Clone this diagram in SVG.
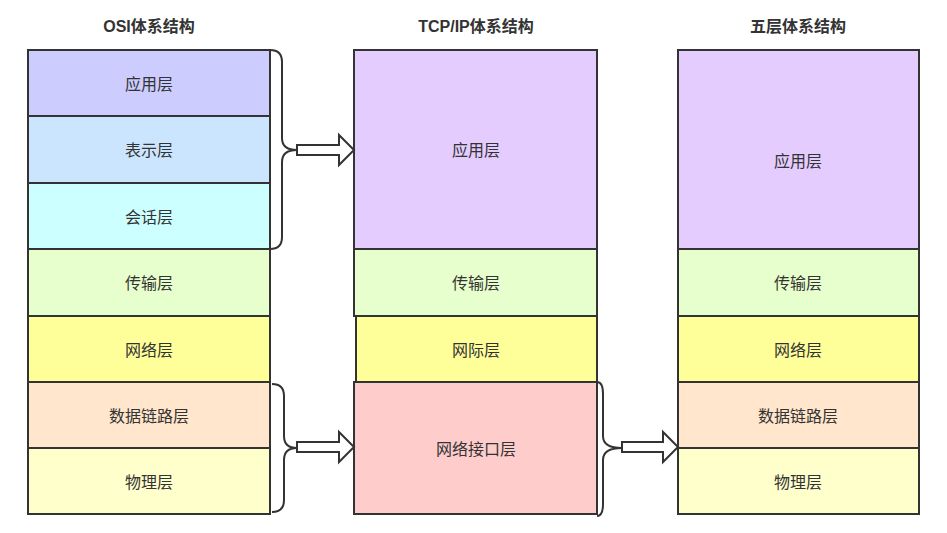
<svg xmlns="http://www.w3.org/2000/svg" width="947" height="533" viewBox="0 0 947 533">
<style>
.b{stroke:#333;stroke-width:2}
.t{font-family:"Liberation Sans","Noto Sans CJK SC",sans-serif;font-size:16px;fill:#333;text-anchor:middle;dominant-baseline:central}
.h{font-family:"Liberation Sans","Noto Sans CJK SC",sans-serif;font-size:16px;font-weight:bold;fill:#333;text-anchor:middle;dominant-baseline:central}
.br{fill:none;stroke:#333;stroke-width:2}
.ar{fill:#fff;stroke:#333;stroke-width:2;stroke-linejoin:miter}
</style>
<rect width="947" height="533" fill="#fff"/>
<text class="h" x="149" y="26">OSI体系结构</text>
<text class="h" x="476" y="26">TCP/IP体系结构</text>
<text class="h" x="798" y="26">五层体系结构</text>
<g id="osi-app"><rect class="b" x="28" y="50" width="242" height="66" fill="#CCCCFF"/><text class="t" x="149" y="84">应用层</text></g>
<g id="osi-pres"><rect class="b" x="28" y="116" width="242" height="67" fill="#CCE5FF"/><text class="t" x="149" y="150">表示层</text></g>
<g id="osi-sess"><rect class="b" x="28" y="183" width="242" height="66" fill="#CCFFFF"/><text class="t" x="149" y="217">会话层</text></g>
<g id="osi-trans"><rect class="b" x="28" y="249" width="242" height="67" fill="#E6FFCC"/><text class="t" x="149" y="283">传输层</text></g>
<g id="osi-net"><rect class="b" x="28" y="316" width="242" height="66" fill="#FFFF99"/><text class="t" x="149" y="350">网络层</text></g>
<g id="osi-link"><rect class="b" x="28" y="382" width="242" height="66" fill="#FFE6CC"/><text class="t" x="149" y="416">数据链路层</text></g>
<g id="osi-phy"><rect class="b" x="28" y="448" width="242" height="66" fill="#FFFFCC"/><text class="t" x="149" y="482">物理层</text></g>

<g id="tcp-app"><rect class="b" x="354" y="50" width="243" height="199" fill="#E5CCFF"/><text class="t" x="476" y="150">应用层</text></g>
<g id="tcp-trans"><rect class="b" x="354" y="249" width="243" height="67" fill="#E6FFCC"/><text class="t" x="476" y="283">传输层</text></g>
<g id="tcp-net"><rect class="b" x="356" y="316" width="241" height="66" fill="#FFFF99"/><text class="t" x="476" y="350">网际层</text></g>
<g id="tcp-if"><rect class="b" x="354" y="382" width="243" height="132" fill="#FFCCCC"/><text class="t" x="476" y="449">网络接口层</text></g>

<g id="five-app"><rect class="b" x="678" y="50" width="241" height="199" fill="#E5CCFF"/><text class="t" x="798" y="161">应用层</text></g>
<g id="five-trans"><rect class="b" x="678" y="249" width="241" height="67" fill="#E6FFCC"/><text class="t" x="798" y="283">传输层</text></g>
<g id="five-net"><rect class="b" x="678" y="316" width="241" height="66" fill="#FFFF99"/><text class="t" x="798" y="350">网络层</text></g>
<g id="five-link"><rect class="b" x="678" y="382" width="241" height="66" fill="#FFE6CC"/><text class="t" x="798" y="416">数据链路层</text></g>
<g id="five-phy"><rect class="b" x="678" y="448" width="241" height="66" fill="#FFFFCC"/><text class="t" x="798" y="482">物理层</text></g>

<g id="connectors">
<path class="br" d="M270,50 Q282,50 282,62 L282,138 Q282,150 297,150 Q282,150 282,162 L282,237 Q282,249 270,249"/>
<path class="ar" d="M297,145 L339,145 L339,135 L354,150 L339,165 L339,155 L297,155 Z"/>
<path class="br" d="M272,384 Q284,384 284,396 L284,436 Q284,448 297,448 Q284,448 284,460 L284,500 Q284,512 272,512"/>
<path class="ar" d="M297,442 L339,442 L339,432 L354,447 L339,462 L339,452 L297,452 Z"/>
<path class="br" d="M597,382 Q603,382 603,394 L603,436 Q603,448 622,448 Q603,448 603,460 L603,504 Q603,516 597,516"/>
<path class="ar" d="M622,442 L663,442 L663,432 L678,447 L663,462 L663,452 L622,452 Z"/>
</g>
</svg>
